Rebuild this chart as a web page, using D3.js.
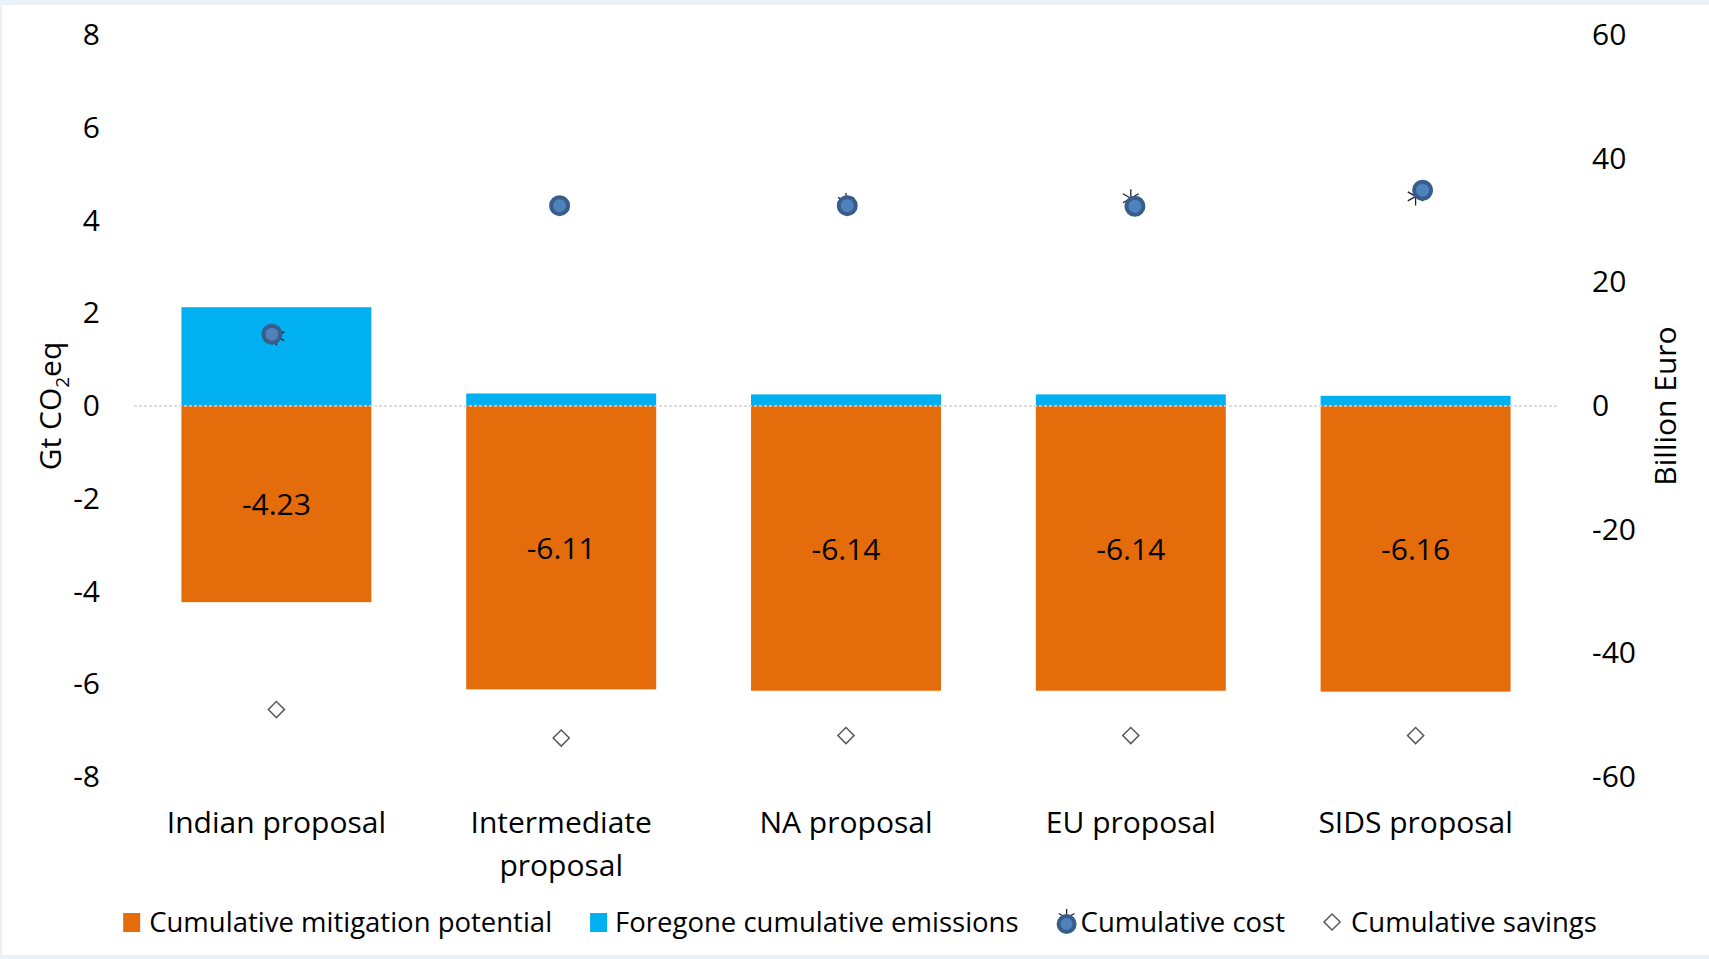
<!DOCTYPE html>
<html>
<head>
<meta charset="utf-8">
<script src="https://cdn.jsdelivr.net/npm/d3@7"></script>
<style>
  body { margin: 0; background: #eaf1f7; }
  svg text { font-family: "Open Sans", sans-serif; fill: #000; }
</style>
</head>
<body>
<div id="chart"></div>
<script>
// Chart data
const categories = ["Indian proposal", "Intermediate proposal", "NA proposal", "EU proposal", "SIDS proposal"];
const mitigation = [-4.23, -6.11, -6.14, -6.14, -6.16];   // Gt CO2eq, left axis
const foregone = [2.13, 0.27, 0.25, 0.25, 0.22];          // Gt CO2eq, left axis
const cost = [11.6, 32.4, 32.4, 32.3, 34.9];              // Billion Euro, right axis
const costStar = [11.3, 32.4, 33.0, 33.6, 33.9];          // star marker drawn behind the circle
const savings = [-49.1, -53.7, -53.3, -53.3, -53.3];      // Billion Euro, right axis
const leftTicks = [-8, -6, -4, -2, 0, 2, 4, 6, 8];
const rightTicks = [-60, -40, -20, 0, 20, 40, 60];

const W = 1709, H = 959;
const margin = {top: 35, right: 151, bottom: 182, left: 134},
      width = W - margin.left - margin.right,
      height = H - margin.top - margin.bottom;

const root = d3.select("#chart")
    .append("svg")
    .attr("width", W)
    .attr("height", H);

// slide-like frame round the white chart area
root.append("rect")
    .attr("x", 2).attr("y", 5)
    .attr("width", W - 2).attr("height", H - 9)
    .attr("fill", "#fff");

const svg = root.append("g")
    .attr("transform", `translate(${margin.left},${margin.top})`);

// Scales
const x = d3.scaleBand()
    .domain(categories)
    .range([0, width])
    .paddingInner(0.333)
    .paddingOuter(0.1665);

// cost markers sit on a slightly wider spread than the bars
const xCost = d3.scalePoint()
    .domain(categories)
    .range([x.step() / 2 - 4.5, width - x.step() / 2 + 7]);

const y = d3.scaleLinear().domain([-8, 8]).range([height, 0]);
const y2 = d3.scaleLinear().domain([-60, 60]).range([height, 0]);

const cx = d => x(d) + x.bandwidth() / 2;
const plain = d => String(d);   // hyphen minus like the original

// Left axis
svg.append("g")
    .call(d3.axisLeft(y).tickValues(leftTicks).tickFormat(plain).tickSize(0).tickPadding(34))
    .call(g => g.select(".domain").remove())
    .selectAll("text")
    .style("font-size", "30px")
    .style("font-family", "'Open Sans', sans-serif");

// Right axis
svg.append("g")
    .attr("transform", `translate(${width},0)`)
    .call(d3.axisRight(y2).tickValues(rightTicks).tickFormat(plain).tickSize(0).tickPadding(34))
    .call(g => g.select(".domain").remove())
    .selectAll("text")
    .style("font-size", "30px")
    .style("font-family", "'Open Sans', sans-serif");

// Axis titles
const yTitle = svg.append("text")
    .attr("transform", `translate(${50 - margin.left},${height / 2}) rotate(-90)`)
    .attr("text-anchor", "middle")
    .attr("dy", "0.35em")
    .style("font-size", "30px");
yTitle.append("tspan").text("Gt CO");
yTitle.append("tspan").text("2").style("font-size", "19px").attr("dy", "8");
yTitle.append("tspan").text("eq").attr("dy", "-8");

svg.append("text")
    .attr("transform", `translate(${1665 - margin.left},${height / 2}) rotate(-90)`)
    .attr("text-anchor", "middle")
    .attr("dy", "0.35em")
    .style("font-size", "30px")
    .text("Billion Euro");

// Bars: mitigation below zero, foregone emissions above
svg.selectAll(".bar-mit")
    .data(categories)
    .enter()
    .append("rect")
    .attr("class", "bar-mit")
    .attr("x", d => x(d))
    .attr("width", x.bandwidth())
    .attr("y", y(0))
    .attr("height", (d, i) => y(mitigation[i]) - y(0))
    .attr("fill", "#e46c0a");

svg.selectAll(".bar-for")
    .data(categories)
    .enter()
    .append("rect")
    .attr("class", "bar-for")
    .attr("x", d => x(d))
    .attr("width", x.bandwidth())
    .attr("y", (d, i) => y(foregone[i]))
    .attr("height", (d, i) => y(0) - y(foregone[i]))
    .attr("fill", "#00b0f0");

// Zero line
svg.append("line")
    .attr("x1", 0).attr("x2", width)
    .attr("y1", y(0)).attr("y2", y(0))
    .attr("stroke", "#d4d4d4")
    .attr("stroke-width", 1.5)
    .attr("stroke-dasharray", "3,2");

// Data labels inside the orange bars
svg.selectAll(".lbl")
    .data(categories)
    .enter()
    .append("text")
    .attr("class", "lbl")
    .attr("x", cx)
    .attr("y", (d, i) => (y(0) + y(mitigation[i])) / 2)
    .attr("dy", "0.38em")
    .attr("text-anchor", "middle")
    .style("font-size", "30px")
    .text((d, i) => mitigation[i].toFixed(2));

// Category labels with wrapping
const xAxis = svg.append("g")
    .attr("transform", `translate(0,${height})`)
    .call(d3.axisBottom(x).tickSize(0).tickPadding(35))
    .call(g => g.select(".domain").remove());

xAxis.selectAll("text")
    .style("font-size", "30px")
    .style("font-family", "'Open Sans', sans-serif")
    .each(function() {
        const text = d3.select(this);
        const words = text.text().split(" ");
        const yy = text.attr("y"), dy = text.attr("dy");
        text.text(null);
        let line = [];
        let lineNo = 0;
        let tspan = text.append("tspan").attr("x", 0).attr("y", yy).attr("dy", dy);
        words.forEach(w => {
            line.push(w);
            tspan.text(line.join(" "));
            if (tspan.node().getComputedTextLength() > x.step() - 20 && line.length > 1) {
                line.pop();
                tspan.text(line.join(" "));
                line = [w];
                lineNo++;
                tspan = text.append("tspan").attr("x", 0).attr("y", yy)
                    .attr("dy", (lineNo * 1.43 + parseFloat(dy)) + "em").text(w);
            }
        });
    });

// Cumulative cost markers (star behind a circle)
const star = d3.symbol().type(d3.symbolAsterisk).size(230);

svg.selectAll(".star")
    .data(categories)
    .enter()
    .append("path")
    .attr("class", "star")
    .attr("d", star)
    .attr("transform", (d, i) => `translate(${cx(d)},${y2(costStar[i])})`)
    .attr("fill", "none")
    .attr("stroke", "#222")
    .attr("stroke-width", 1.3);

svg.selectAll(".cost")
    .data(categories)
    .enter()
    .append("circle")
    .attr("class", "cost")
    .attr("cx", d => xCost(d))
    .attr("cy", (d, i) => y2(cost[i]))
    .attr("r", 8.5)
    .attr("fill", "#4f81bd")
    .attr("stroke", "#385d8a")
    .attr("stroke-width", 4);

// Cumulative savings diamonds
const diamond = d3.symbol().type(d3.symbolSquare).size(130);

svg.selectAll(".sav")
    .data(categories)
    .enter()
    .append("path")
    .attr("class", "sav")
    .attr("d", diamond)
    .attr("transform", (d, i) => `translate(${cx(d)},${y2(savings[i])}) rotate(45)`)
    .attr("fill", "#fff")
    .attr("stroke", "#595959")
    .attr("stroke-width", 1.5);

// Legend
const legendItems = [
    {name: "Cumulative mitigation potential", type: "rect", color: "#e46c0a", gap: 26},
    {name: "Foregone cumulative emissions", type: "rect", color: "#00b0f0", gap: 25},
    {name: "Cumulative cost", type: "cost", gap: 24},
    {name: "Cumulative savings", type: "diamond", gap: 28}
];
const legend = root.append("g");
const legendY = 922;
let lx = 0;
legendItems.forEach((item, i) => {
    const g = legend.append("g").attr("transform", `translate(${lx},0)`);
    if (item.type === "rect") {
        g.append("rect")
            .attr("x", 0).attr("y", legendY - 9)
            .attr("width", 17).attr("height", 19)
            .attr("fill", item.color);
    } else if (item.type === "cost") {
        g.append("path").attr("d", star)
            .attr("transform", `translate(10,${legendY - 4})`)
            .attr("fill", "none").attr("stroke", "#222").attr("stroke-width", 1.3);
        g.append("circle")
            .attr("cx", 10).attr("cy", legendY + 2).attr("r", 8)
            .attr("fill", "#4f81bd").attr("stroke", "#385d8a").attr("stroke-width", 4);
    } else {
        g.append("path").attr("d", diamond)
            .attr("transform", `translate(9,${legendY}) rotate(45)`)
            .attr("fill", "#fff").attr("stroke", "#595959").attr("stroke-width", 1.5);
    }
    const t = g.append("text")
        .attr("x", item.gap)
        .attr("y", legendY)
        .attr("dy", "0.35em")
        .style("font-size", "27.5px")
        .text(item.name);
    lx += item.gap + t.node().getComputedTextLength() + 38;
});
const legendWidth = lx - 38;
legend.attr("transform", `translate(${860 - legendWidth / 2},0)`);
</script>
</body>
</html>
